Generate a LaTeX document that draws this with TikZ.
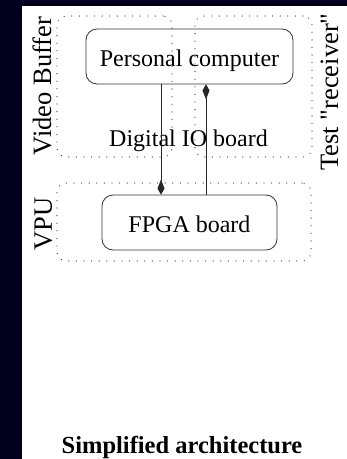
\documentclass[tikz,border=0pt]{standalone}
\usepackage{fontspec}
\setmainfont{Liberation Serif}
\usetikzlibrary{
  arrows.meta,
  positioning
}
\definecolor{slidebg}{RGB}{2,0,28}

\begin{document}
\begin{tikzpicture}[x=1pt, y=-1pt, font=\fontsize{24}{28}\selectfont]
% -------------------------
% Page
% -------------------------
\useasboundingbox (0,0) rectangle (347,459);
\fill[slidebg] (0,0) rectangle (347,459);
\fill[white] (22,6) rectangle (347,459);

% -------------------------
% Groups (dotted)
% -------------------------
\begin{scope}[
  every node/.style={draw=black!75, line width=1.2pt, dash pattern=on 0.1pt off 7.5pt,
    line cap=round, rounded corners=9pt, inner sep=0pt}
]
\node[minimum width=115, minimum height=141] (vbuffer)  at (114.5, 86.5) {};
\node[minimum width=117, minimum height=141] (receiver) at (253.5, 86.5) {};
\node[minimum width=254, minimum height=78]  (vpu)      at (184, 222)    {};
\end{scope}

% -------------------------
% Boards
% -------------------------
\begin{scope}[
  every node/.style={draw=black!80, line width=0.8pt, rounded corners=11pt, align=center,
    text height=20pt, text depth=0pt}
]
\node[minimum width=207, minimum height=55] (pc)   at (189.5, 56.5)  {Personal computer};
\node[minimum width=175, minimum height=55] (fpga) at (189.5, 222.5) {FPGA board};
\end{scope}

% -------------------------
% Labels
% -------------------------
\node[anchor=base] (dio) at (188.5, 146) {Digital IO board};
\begin{scope}[every node/.style={anchor=base, rotate=90, font=\fontsize{26.5}{30}\selectfont}]
\node (vbufferlabel)  at (51, 86)  {Video Buffer};
\node (vpulabel)      at (52, 224) {VPU};
\node (receiverlabel) at (338, 92) {Test \textquotedbl receiver\textquotedbl};
\end{scope}
\node[anchor=base, font=\fontsize{24.5}{28}\selectfont\bfseries] (caption) at (182, 453) {Simplified architecture};

% -------------------------
% Edges
% -------------------------
\begin{scope}[>={Kite[length=15pt, width=7pt, inset=9pt]}, draw=black!85, line width=0.7pt]
\path [->] ([xshift=-28.5pt]pc.south) edge ([xshift=-28.5pt]fpga.north);
\path [->] ([xshift=16.5pt]fpga.north) edge ([xshift=16.5pt]pc.south);
\end{scope}

\end{tikzpicture}
\end{document}
